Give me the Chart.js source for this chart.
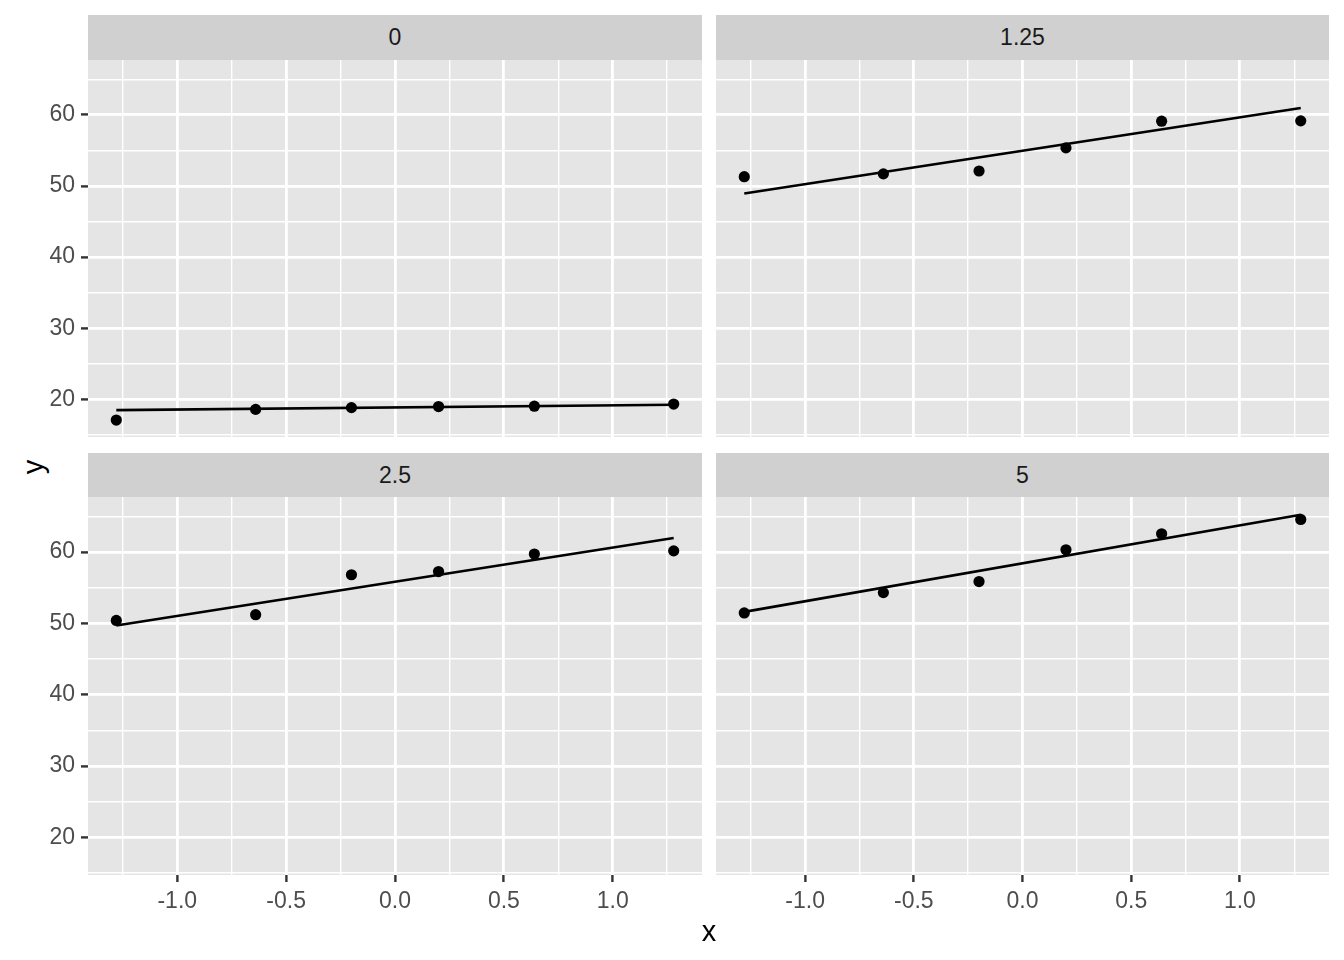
<!DOCTYPE html>
<html>
<head>
<meta charset="utf-8">
<script src="https://cdn.jsdelivr.net/npm/chart.js@4"></script>
<style>
  body { margin: 0; background: #fff; font-family: "Liberation Sans", Arial, sans-serif; }
  #wrap { position: relative; width: 1344px; height: 960px; overflow: hidden; }
  canvas, .strip, .title { position: absolute; }
  .strip { background: #D0D0D0; color: #1A1A1A; font-size: 23px; text-align: center; height: 45px; line-height: 45px; }
  .title { font-size: 29px; color: #000; text-align: center; width: 40px; height: 34px; line-height: 34px; }
</style>
</head>
<body>
<div id="wrap">
  <div class="strip" style="left:88px; top:15px; width:614px;">0</div>
  <div class="strip" style="left:716px; top:15px; width:613px;">1.25</div>
  <div class="strip" style="left:88px; top:453px; width:614px; height:44px; line-height:44px;">2.5</div>
  <div class="strip" style="left:716px; top:453px; width:613px; height:44px; line-height:44px;">5</div>

  <canvas id="p0" width="672" height="377" style="left:30px; top:60px;"></canvas>
  <canvas id="p1" width="613" height="377" style="left:716px; top:60px;"></canvas>
  <canvas id="p2" width="672" height="427" style="left:30px; top:497px;"></canvas>
  <canvas id="p3" width="613" height="427" style="left:716px; top:497px;"></canvas>

  <div class="title" style="left:13px; top:450px; transform: rotate(-90deg);">y</div>
  <div class="title" style="left:689px; top:914px;">x</div>
</div>

<script>
// observed x positions (same in every panel)
const xValues = [-1.28, -0.64, -0.2, 0.2, 0.64, 1.28];
// ends of the fitted line
const fitX = [-1.28, 1.28];

const panelLabels = ["0", "1.25", "2.5", "5"];

const y0 = [17.1, 18.6, 18.85, 19.0, 19.05, 19.35];
const y125 = [51.3, 51.7, 52.1, 55.35, 59.1, 59.15];
const y25 = [50.4, 51.2, 56.8, 57.25, 59.7, 60.15];
const y5 = [51.45, 54.3, 55.85, 60.3, 62.55, 64.55];

const fit0 = [18.5, 19.25];
const fit125 = [48.95, 60.95];
const fit25 = [49.7, 61.95];
const fit5 = [51.6, 65.2];

const xTicks = [-1.0, -0.5, 0.0, 0.5, 1.0];
const xMinor = [-1.25, -0.75, -0.25, 0.25, 0.75, 1.25];
const yTicks = [20, 30, 40, 50, 60];
const yMinor = [15, 25, 35, 45, 55, 65];

const tickFont = { family: "'Liberation Sans', Arial, sans-serif", size: 23 };

// grey panel background behind the grid
const panelBg = {
  id: "panelBg",
  beforeDraw(chart) {
    const { ctx, chartArea: a } = chart;
    ctx.save();
    ctx.fillStyle = "#E5E5E5";
    ctx.fillRect(a.left, a.top, a.right - a.left, a.bottom - a.top);
    ctx.restore();
  }
};

function axis(major, minor, min, max, show, fmt, isX) {
  return {
    type: "linear",
    min: min,
    max: max,
    afterBuildTicks: (s) => {
      s.ticks = major.concat(minor).sort((a, b) => a - b).map((v) => ({ value: v }));
    },
    afterFit: (s) => {
      if (isX) {
        s.height = show ? 49 : 0;
        s.paddingLeft = 0;
        s.paddingRight = 0;
      } else {
        s.width = show ? 58 : 0;
        s.paddingTop = 0;
        s.paddingBottom = 0;
      }
    },
    border: { display: false },
    grid: {
      color: "#FFFFFF",
      lineWidth: (c) => (major.includes(c.tick.value) ? 2.8 : 1.4),
      drawTicks: show,
      tickLength: 7,
      tickWidth: 2.4,
      tickColor: (c) => (major.includes(c.tick.value) ? "#333333" : "rgba(0,0,0,0)")
    },
    ticks: {
      display: show,
      autoSkip: false,
      maxRotation: 0,
      padding: isX ? 6 : 6,
      color: "#4D4D4D",
      font: tickFont,
      callback: (v) => (major.includes(v) ? fmt(v) : "")
    }
  };
}

function makePanel(id, points, fit, showX, showY) {
  new Chart(document.getElementById(id), {
    type: "scatter",
    data: {
      datasets: [
        {
          data: fitX.map((x, i) => ({ x: x, y: fit[i] })),
          showLine: true,
          borderColor: "#000",
          borderWidth: 2.6,
          pointRadius: 0,
          order: 0
        },
        {
          data: xValues.map((x, i) => ({ x: x, y: points[i] })),
          backgroundColor: "#000",
          borderWidth: 0,
          pointRadius: 5.6,
          order: 1
        }
      ]
    },
    options: {
      responsive: false,
      animation: false,
      events: [],
      layout: { padding: 0, autoPadding: false },
      plugins: { legend: { display: false }, tooltip: { enabled: false } },
      scales: {
        x: axis(xTicks, xMinor, -1.41, 1.41, showX, (v) => v.toFixed(1), true),
        y: axis(yTicks, yMinor, 14.72, 67.7, showY, (v) => String(v), false)
      }
    },
    plugins: [panelBg]
  });
}

makePanel("p0", y0, fit0, false, true);
makePanel("p1", y125, fit125, false, false);
makePanel("p2", y25, fit25, true, true);
makePanel("p3", y5, fit5, true, false);
</script>
</body>
</html>
